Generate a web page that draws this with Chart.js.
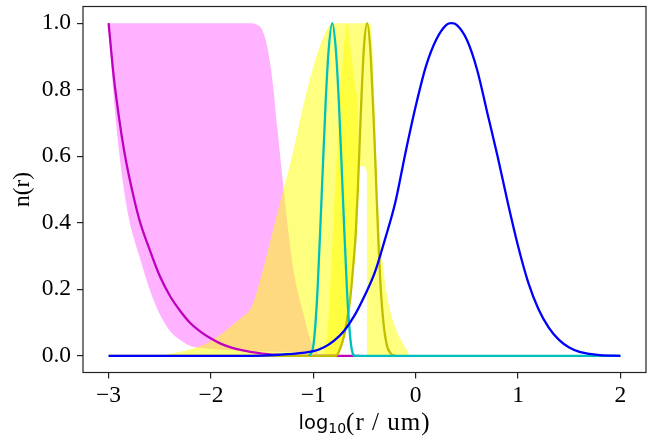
<!DOCTYPE html>
<html>
<head>
<meta charset="utf-8">
<script src="https://cdn.jsdelivr.net/npm/chart.js@4.4.1/dist/chart.umd.min.js"></script>
<style>
    html, body { margin: 0; padding: 0; background: #fff; }
    #wrap { width: 649px; height: 441px; }
</style>
</head>
<body>
<div id="wrap"><canvas id="sizeChart" width="649" height="441"></canvas></div>
<script>
(function () {
    const xTicks = [-3, -2, -1, 0, 1, 2];
    const yTicks = [0, 0.2, 0.4, 0.6, 0.8, 1.0];
    const xTitle = ['log', '10', '(r / um)'];
    const yTitle = 'n(r)';

    // magenta band (shaded)
    const pinkX = [-3, -2.95, -2.9, -2.85, -2.8, -2.75, -2.7, -2.6, -2.5, -2.4, -2.3, -2.2, -2.1, -2.0, -1.8, -1.6,
        -1.55, -1.5, -1.45, -1.4, -1.35, -1.3, -1.25, -1.2, -1.15, -1.1, -1.05, -1.0, -0.95];
    const pinkHi = [1, 1, 1, 1, 1, 1, 1, 1, 1, 1, 1, 1, 1, 1, 1, 1,
        0.995, 0.98, 0.93, 0.83, 0.68, 0.53, 0.39, 0.27, 0.19, 0.13, 0.07, 0.025, 0.005];
    const pinkLo = [1.0, 0.78, 0.62, 0.5, 0.41, 0.35, 0.3, 0.2, 0.125, 0.075, 0.048, 0.03, 0.024, 0.021, 0.017, 0.015,
        0.014, 0.014, 0.013, 0.013, 0.012, 0.012, 0.011, 0.011, 0.01, 0.01, 0.009, 0.008, 0.005];

    // yellow band, wide one
    const yellowAX = [-2.6, -2.5, -2.4, -2.3, -2.2, -2.1, -2.0, -1.9, -1.8, -1.7, -1.6, -1.5, -1.4, -1.3, -1.2, -1.1,
        -1.0, -0.9, -0.85, -0.8, -0.78, -0.74, -0.7, -0.67, -0.64, -0.61, -0.585, -0.565, -0.555];
    const yellowAHi = [0, 0.002, 0.006, 0.012, 0.02, 0.03, 0.045, 0.065, 0.09, 0.115, 0.15, 0.25, 0.37, 0.49, 0.61, 0.75,
        0.87, 0.96, 0.99, 1.0, 1.0, 1.0, 1.0, 1.0, 0.93, 0.86, 0.8, 0.75, 0.55];
    const yellowALo = [0, 0, 0, 0, 0, 0, 0, 0, 0, 0, 0, 0, 0, 0, 0, 0,
        0, 0, 0, 0, 0, 0.02, 0.06, 0.11, 0.17, 0.27, 0.37, 0.5, 0.55];

    // yellow band, narrow one
    const yellowBX = [-0.9, -0.88, -0.85, -0.82, -0.78, -0.74, -0.7, -0.67, -0.64, -0.61, -0.585, -0.565, -0.54, -0.51, -0.476,
        -0.474, -0.45, -0.43, -0.41, -0.39, -0.37, -0.35, -0.32, -0.29, -0.26, -0.22, -0.18, -0.13, -0.09, -0.06];
    const yellowBHi = [0, 0.03, 0.12, 0.3, 0.55, 0.78, 0.93, 1.0, 1.0, 1.0, 1.0, 1.0, 1.0, 1.0, 1.0,
        1.0, 1.0, 0.97, 0.82, 0.64, 0.47, 0.37, 0.27, 0.2, 0.15, 0.105, 0.07, 0.04, 0.018, 0];
    const yellowBLo = [0, 0, 0, 0, 0, 0.02, 0.06, 0.11, 0.17, 0.27, 0.37, 0.5, 0.57, 0.57, 0.55,
        0, 0, 0, 0, 0, 0, 0, 0, 0, 0, 0, 0, 0, 0, 0];

    // curves
    const magentaX = [-3, -2.95, -2.9, -2.85, -2.8, -2.7, -2.6, -2.5, -2.4, -2.3, -2.2, -2.1, -2.0, -1.9, -1.8, -1.7,
        -1.6, -1.5, -1.4, -1.2, -1.0, -0.55];
    const magentaY = [1.0, 0.84, 0.72, 0.62, 0.54, 0.41, 0.32, 0.24, 0.18, 0.135, 0.098, 0.072, 0.052, 0.036, 0.025, 0.017,
        0.011, 0.007, 0.004, 0.001, 0, 0];

    const oliveX = [-3, -0.78, -0.74, -0.7, -0.67, -0.64, -0.61, -0.585, -0.565, -0.545, -0.525, -0.505, -0.475,
        -0.445, -0.425, -0.405, -0.385, -0.365, -0.345, -0.315, -0.28, -0.24, -0.2];
    const oliveY = [0, 0, 0.02, 0.06, 0.11, 0.17, 0.27, 0.37, 0.5, 0.66, 0.81, 0.93, 1.0,
        0.93, 0.81, 0.67, 0.51, 0.35, 0.22, 0.1, 0.03, 0.006, 0];

    const cyanX = [-1.04, -1.0, -0.96, -0.92, -0.88, -0.85, -0.815, -0.78, -0.75, -0.71, -0.67, -0.63, -0.59, 2.0];
    const cyanY = [0, 0.03, 0.19, 0.47, 0.76, 0.92, 1.0, 0.92, 0.76, 0.47, 0.19, 0.03, 0, 0];

    const blueX = [-3, -2, -1.5, -1.25, -1.0, -0.9, -0.8, -0.7, -0.6, -0.5, -0.4, -0.3, -0.2, -0.1, 0.0, 0.1, 0.2,
        0.3, 0.35, 0.4, 0.5, 0.6, 0.7, 0.8, 0.9, 1.0, 1.1, 1.2, 1.3, 1.4, 1.5, 1.6, 1.7, 1.8, 2.0];
    const blueY = [0, 0, 0.001, 0.005, 0.014, 0.025, 0.045, 0.075, 0.12, 0.18, 0.25, 0.35, 0.46, 0.61, 0.75, 0.87, 0.95,
        0.995, 1.0, 0.995, 0.95, 0.86, 0.73, 0.6, 0.46, 0.33, 0.22, 0.14, 0.085, 0.048, 0.025, 0.012, 0.006, 0.002, 0];

    const serif = '"Liberation Serif", "Times New Roman", serif';
    const sans = '"DejaVu Sans", sans-serif';
    Chart.defaults.font.family = serif;
    Chart.defaults.color = '#000';

    function pts(xs, ys) {
        return xs.map((x, i) => ({ x: x, y: ys[i] }));
    }

    function band(xs, hi, lo, color, order) {
        return [{
            data: pts(xs, hi), fill: '+1', backgroundColor: color,
            borderWidth: 0, pointRadius: 0, order: order
        }, {
            data: pts(xs, lo), fill: false,
            borderWidth: 0, pointRadius: 0, order: order
        }];
    }

    function curve(xs, ys, color, order) {
        return {
            data: pts(xs, ys), fill: false, borderColor: color,
            borderWidth: 2.3, pointRadius: 0, order: order
        };
    }

    const frame = {
        id: 'frame',
        afterDatasetsDraw(chart) {
            const a = chart.chartArea;
            const ctx = chart.ctx;
            ctx.save();
            ctx.strokeStyle = '#222';
            ctx.lineWidth = 1.2;
            ctx.strokeRect(a.left, a.top, a.right - a.left, a.bottom - a.top);
            ctx.restore();
        },
        afterDraw(chart) {
            // x title: sans "log" with subscript, then serif rest
            const a = chart.chartArea;
            const ctx = chart.ctx;
            ctx.save();
            ctx.fillStyle = '#000';
            ctx.textBaseline = 'alphabetic';
            ctx.textAlign = 'left';
            ctx.font = '19.5px ' + sans;
            const w1 = ctx.measureText(xTitle[0]).width;
            ctx.font = '14px ' + sans;
            const w2 = ctx.measureText(xTitle[1]).width;
            ctx.font = '25px ' + serif;
            if ('letterSpacing' in ctx) ctx.letterSpacing = '1px';
            const w3 = ctx.measureText(xTitle[2]).width;
            if ('letterSpacing' in ctx) ctx.letterSpacing = '0px';
            let x = (a.left + a.right) / 2 - (w1 + w2 + w3) / 2;
            const base = chart.height - 12;
            ctx.font = '19.5px ' + sans;
            ctx.fillText(xTitle[0], x, base);
            x += w1;
            ctx.font = '14px ' + sans;
            ctx.fillText(xTitle[1], x, base + 4.3);
            x += w2;
            ctx.font = '25px ' + serif;
            if ('letterSpacing' in ctx) ctx.letterSpacing = '1px';
            ctx.fillText(xTitle[2], x, base + 1);
            ctx.restore();
        }
    };

    const datasets = [].concat(
        band(pinkX, pinkHi, pinkLo, 'rgba(255, 0, 255, 0.3)', 20),
        band(yellowAX, yellowAHi, yellowALo, 'rgba(255, 255, 0, 0.5)', 19),
        band(yellowBX, yellowBHi, yellowBLo, 'rgba(255, 255, 0, 0.5)', 18),
        [
            curve(magentaX, magentaY, '#bf00bf', 4),
            curve(oliveX, oliveY, '#bfbf00', 3),
            curve(cyanX, cyanY, '#00bfbf', 2),
            curve(blueX, blueY, '#0000ff', 1)
        ]
    );

    const myChart = new Chart(document.getElementById('sizeChart'), {
        type: 'scatter',
        data: { datasets: datasets },
        options: {
            responsive: false,
            animation: false,
            events: [],
            devicePixelRatio: 1,
            layout: { padding: { top: 6.5, right: 3, bottom: 0, left: 0 } },
            datasets: {
                scatter: { showLine: true, cubicInterpolationMode: 'monotone' }
            },
            scales: {
                x: {
                    type: 'linear',
                    min: -3.25,
                    max: 2.25,
                    afterBuildTicks: (axis) => { axis.ticks = xTicks.map(v => ({ value: v })); },
                    afterFit: (s) => {
                        s.height = 68.5;
                        s.paddingLeft = 0; s.paddingRight = 0;
                    },
                    grid: { drawOnChartArea: false, drawTicks: true, tickLength: 6, color: '#222', lineWidth: 1.2 },
                    border: { display: false },
                    ticks: {
                        padding: 3,
                        maxRotation: 0,
                        autoSkip: false,
                        font: { size: 23.5 },
                        color: '#000',
                        callback: (v) => (v < 0 ? '\u2212' + Math.abs(v) : String(v))
                    }
                },
                y: {
                    type: 'linear',
                    min: -0.05,
                    max: 1.05,
                    afterBuildTicks: (axis) => { axis.ticks = yTicks.map(v => ({ value: v })); },
                    afterFit: (s) => {
                        s.width = 83;
                        s.paddingTop = 0; s.paddingBottom = 0;
                    },
                    grid: { drawOnChartArea: false, drawTicks: true, tickLength: 6, color: '#222', lineWidth: 1.2 },
                    border: { display: false },
                    ticks: {
                        padding: 6,
                        autoSkip: false,
                        font: { size: 23.5 },
                        color: '#000',
                        callback: (v) => Number(v).toFixed(1)
                    },
                    title: {
                        display: true,
                        text: yTitle,
                        font: { size: 23.5 },
                        color: '#000',
                        padding: { top: 9, bottom: 0 }
                    }
                }
            },
            plugins: {
                legend: { display: false },
                tooltip: { enabled: false }
            }
        },
        plugins: [frame]
    });
})();
</script>
</body>
</html>
